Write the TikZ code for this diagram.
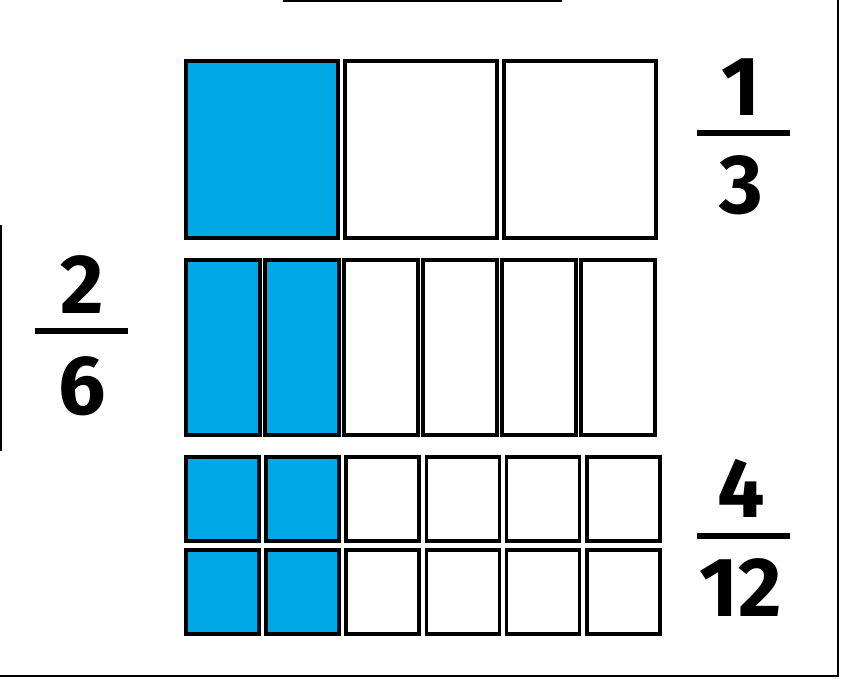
\documentclass[tikz,border=0pt]{standalone}
\usepackage{fontspec}
\setmainfont{Fira Sans}
\usetikzlibrary{positioning}

\definecolor{partblue}{RGB}{0,169,230}

\tikzset{
  cell/.style={draw=black, line width=3.6pt, fill=white, inner sep=0pt, anchor=north west},
  part/.style={cell, fill=partblue},
  digit/.style={font=\bfseries\fontsize{84}{84}\selectfont, inner sep=0pt},
  fracbar/.style={line width=5.5pt},
  edge/.style={line width=2pt}
}

\begin{document}
\begin{tikzpicture}[x=1pt,y=-1pt]
\useasboundingbox (0,0) rectangle (844,678);

% edges of the cut-out
\draw[edge] (283,1) -- (562,1);
\draw[edge] (1,225) -- (1,451);
\draw[edge] (0,676) -- (838,676) -- (838,0);

% thirds
\foreach \i in {1,2,3} {
  \pgfmathsetmacro{\xx}{184+159*(\i-1)}
  \ifnum\i=1
    \node[part, minimum width=152pt, minimum height=177pt] (a\i) at (\xx,59) {};
  \else
    \node[cell, minimum width=152pt, minimum height=177pt] (a\i) at (\xx,59) {};
  \fi
}

% sixths
\foreach \i in {1,...,6} {
  \pgfmathsetmacro{\xx}{184+79*(\i-1)}
  \ifnum\i<3
    \node[part, minimum width=74pt, minimum height=175pt] (b\i) at (\xx,258) {};
  \else
    \node[cell, minimum width=74pt, minimum height=175pt] (b\i) at (\xx,258) {};
  \fi
}

% twelfths
\foreach \r/\yy in {1/455,2/548} {
  \foreach \i in {1,...,6} {
    \pgfmathsetmacro{\xx}{184+80.2*(\i-1)}
    \ifnum\i<3
      \node[part, minimum width=73pt, minimum height=84pt] (c\r\i) at (\xx,\yy) {};
    \else
      \node[cell, minimum width=73pt, minimum height=84pt] (c\r\i) at (\xx,\yy) {};
    \fi
  }
}

% fractions
\node[digit] (num3) at (741,87) {1};
\node[digit] (den3) at (741,185) {3};
\draw[fracbar] (697,133) -- (790,133);

\node[digit] (num6) at (82,285) {2};
\node[digit] (den6) at (82,386) {6};
\draw[fracbar] (35,331) -- (128,331);

\node[digit] (num12) at (741,488) {4};
\node[digit] (den12) at (741,588) {12};
\draw[fracbar] (697,536) -- (790,536);

\end{tikzpicture}
\end{document}
